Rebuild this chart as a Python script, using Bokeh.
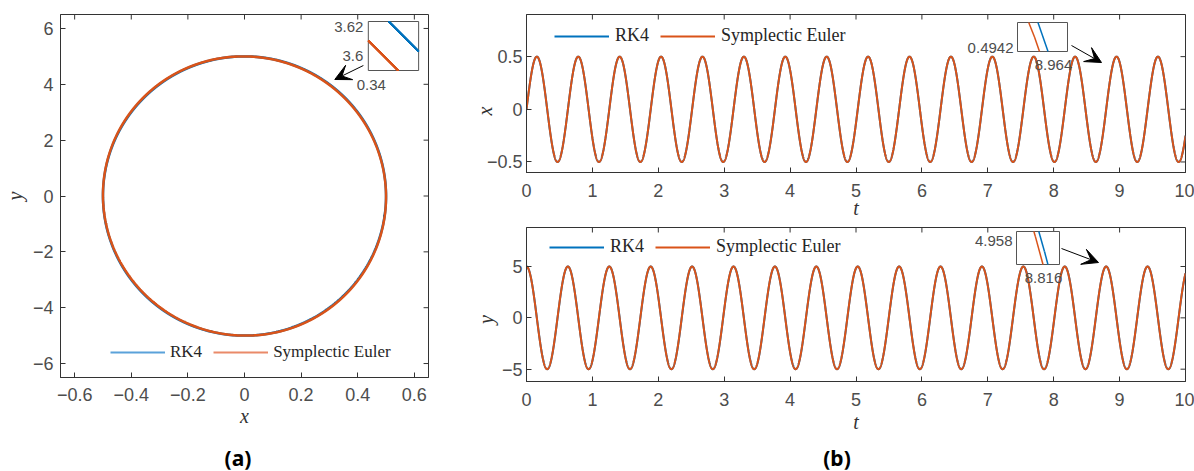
import numpy as np
from bokeh.plotting import figure
from bokeh.models import (FixedTicker, CustomJSTickFormatter, Legend, LegendItem,
                          Label, Arrow, VeeHead, Range1d, Div)
from bokeh.layouts import row, column
from bokeh.embed import file_html
from bokeh.resources import INLINE

# ---------------- data (model) ----------------
OMEGA = 10.0          # angular frequency (16 oscillations in t = 0..10)
X0 = 0.0              # x(0)
Y0 = 5.0              # y(0)
STEP = 0.0015         # integrator step
T_END = 10.0

series_names = ["RK4", "Symplectic Euler"]
series_colors = ["#0072BD", "#D95319"]
legend_a_colors = ["#5aa2da", "#ea8a69"]

xa_ticks = [-0.6, -0.4, -0.2, 0, 0.2, 0.4, 0.6]
ya_ticks = [-6, -4, -2, 0, 2, 4, 6]
t_ticks = [0, 1, 2, 3, 4, 5, 6, 7, 8, 9, 10]
xb_ticks = [-0.5, 0, 0.5]
yb_ticks = [-5, 0, 5]

xa_range = [-0.65, 0.65]
ya_range = [-6.5, 6.5]
t_range = [0, 10]
xb_range = [-0.6, 0.9]
yb_range = [-6.2, 8.8]

inset_a_labels = ["3.62", "3.6", "0.34"]
inset_a_xlevel = 0.342
inset_a_yspan = 0.0316
tip_b1 = (8.964, 0.4942)
tip_b2 = (8.816, 4.958)
inset_b1_labels = ["0.4942", "8.964"]
inset_b2_labels = ["4.958", "8.816"]
captions = ["(a)", "(b)"]
axis_titles = ["x", "y", "t"]

# ---------------- integrate x' = y, y' = -omega^2 x ----------------
n = int(round(T_END / STEP))
t = np.arange(n + 1) * STEP


def deriv(s):
    return np.array([s[1], -OMEGA ** 2 * s[0]])


rk = np.zeros((n + 1, 2))
rk[0] = [X0, Y0]
for i in range(n):
    s = rk[i]
    k1 = deriv(s)
    k2 = deriv(s + STEP / 2 * k1)
    k3 = deriv(s + STEP / 2 * k2)
    k4 = deriv(s + STEP * k3)
    rk[i + 1] = s + STEP / 6 * (k1 + 2 * k2 + 2 * k3 + k4)

se = np.zeros((n + 1, 2))
se[0] = [X0, Y0]
for i in range(n):
    xn = se[i, 0] + STEP * se[i, 1]
    yn = se[i, 1] - STEP * OMEGA ** 2 * xn
    se[i + 1] = [xn, yn]

# ---------------- geometry helpers (page pixels -> data) ----------------
class Geo:
    def __init__(self, L, R, T, B, xr, yr):
        self.L, self.R, self.T, self.B = L, R, T, B
        self.xr, self.yr = xr, yr

    def d(self, px, py):
        px = np.asarray(px, dtype=float)
        py = np.asarray(py, dtype=float)
        x = self.xr[0] + (px - self.L) / (self.R - self.L) * (self.xr[1] - self.xr[0])
        y = self.yr[1] - (py - self.T) / (self.B - self.T) * (self.yr[1] - self.yr[0])
        return x, y

    def dx(self, npx):
        return npx / (self.R - self.L) * (self.xr[1] - self.xr[0])

    def dy(self, npx):
        return npx / (self.B - self.T) * (self.yr[1] - self.yr[0])


fmt_code = """
const r = Math.round(tick * 10000) / 10000;
const s = (Math.abs(r) < 1e-12) ? "0" : r.toString();
return s.replace("-", "\u2212");
"""

AX_COLOR = "#333333"


def style_axis(ax, ticks, standoff, label, lab_standoff):
    ax.ticker = FixedTicker(ticks=ticks)
    ax.formatter = CustomJSTickFormatter(code=fmt_code)
    ax.major_tick_in = 5
    ax.major_tick_out = 0
    ax.minor_tick_line_color = None
    ax.axis_line_color = AX_COLOR
    ax.major_tick_line_color = AX_COLOR
    ax.major_label_text_font = "Liberation Sans"
    ax.major_label_text_font_size = "18px"
    ax.major_label_text_color = "#4d4d4d"
    ax.major_label_standoff = standoff
    ax.axis_label = label
    ax.axis_label_text_font = "Liberation Serif"
    ax.axis_label_text_font_style = "italic"
    ax.axis_label_text_font_size = "20px"
    ax.axis_label_text_color = "#333333"
    ax.axis_label_standoff = lab_standoff


def make_fig(w, h, borders, geo, xt, yt, xstand, ystand, xlab, ylab, xls, yls):
    bl, br, bt, bb = borders
    p = figure(width=w, height=h, x_range=Range1d(*geo.xr), y_range=Range1d(*geo.yr),
               output_backend="svg", toolbar_location=None,
               min_border_left=bl, min_border_right=br, min_border_top=bt, min_border_bottom=bb)
    p.grid.visible = False
    p.outline_line_color = AX_COLOR
    p.outline_line_width = 1
    p.background_fill_color = "white"
    p.border_fill_color = "white"
    style_axis(p.xaxis[0], xt, xstand, xlab, xls)
    style_axis(p.yaxis[0], yt, ystand, ylab, yls)
    # box ticks on the top and right edges
    tl_y = geo.dy(5)
    p.segment(x0=list(xt), x1=list(xt), y0=[geo.yr[1]] * len(xt), y1=[geo.yr[1] - tl_y] * len(xt),
              line_color=AX_COLOR, line_width=1)
    tl_x = geo.dx(5)
    p.segment(x0=[geo.xr[1]] * len(yt), x1=[geo.xr[1] - tl_x] * len(yt), y0=list(yt), y1=list(yt),
              line_color=AX_COLOR, line_width=1)
    return p


def clip_segments(u, v, win):
    u0, u1, v0, v1 = win
    umin = np.minimum(u[:-1], u[1:]); umax = np.maximum(u[:-1], u[1:])
    vmin = np.minimum(v[:-1], v[1:]); vmax = np.maximum(v[:-1], v[1:])
    idx = np.where((umax >= u0) & (umin <= u1) & (vmax >= v0) & (vmin <= v1))[0]
    xs, ys = [], []
    for i in idx:
        ax_, ay_, bx_, by_ = u[i], v[i], u[i + 1], v[i + 1]
        dx, dy = bx_ - ax_, by_ - ay_
        a0, a1 = 0.0, 1.0
        ok = True
        for pp, qq in ((-dx, ax_ - u0), (dx, u1 - ax_), (-dy, ay_ - v0), (dy, v1 - ay_)):
            if pp == 0:
                if qq < 0:
                    ok = False
                    break
            else:
                r = qq / pp
                if pp < 0:
                    a0 = max(a0, r)
                else:
                    a1 = min(a1, r)
        if ok and a0 < a1:
            xs.append([ax_ + a0 * dx, ax_ + a1 * dx])
            ys.append([ay_ + a0 * dy, ay_ + a1 * dy])
    return xs, ys


def draw_inset(p, geo, box, win, curves):
    bx0, by0, bx1, by1 = box
    qx, qy = geo.d([bx0, bx1], [by1, by0])
    p.quad(left=qx[0], right=qx[1], bottom=qy[0], top=qy[1], fill_color="white",
           line_color="#555555", line_width=1)
    u0, u1, v0, v1 = win
    for (u, v), col in curves:
        xs, ys = clip_segments(u, v, win)
        mx, my = [], []
        for sx, sy in zip(xs, ys):
            px = bx0 + (np.array(sx) - u0) / (u1 - u0) * (bx1 - bx0)
            py = by1 - (np.array(sy) - v0) / (v1 - v0) * (by1 - by0)
            dx_, dy_ = geo.d(px, py)
            mx.append(list(dx_)); my.append(list(dy_))
        if mx:
            p.multi_line(xs=mx, ys=my, line_color=col, line_width=1.5)


def add_text(p, geo, px, py, text, align="center", size="15px"):
    x, y = geo.d(px, py)
    p.add_layout(Label(x=float(x), y=float(y), text=text, text_align=align, text_baseline="middle",
                       text_font="Liberation Sans", text_font_size=size, text_color="#4d4d4d"))


def add_arrow(p, geo, p0, p1):
    x0, y0 = geo.d(p0[0], p0[1])
    x1, y1 = geo.d(p1[0], p1[1])
    p.add_layout(Arrow(end=VeeHead(size=16, fill_color="black", line_color="black"),
                       x_start=float(x0), y_start=float(y0), x_end=float(x1), y_end=float(y1),
                       line_color="black", line_width=1))


def caption_div(text, w, pad):
    html = ('<div style="width:%dpx;box-sizing:border-box;padding-left:%dpx;text-align:center;'
            'font-family:\'Noto Sans\';font-weight:bold;font-size:21px;line-height:36px;'
            'color:black;">%s</div>' % (w, pad, text))
    return Div(text=html, width=w, height=31, margin=0)


def desc_cross(tt, vv, t_near, level):
    i0 = int(round(t_near / STEP))
    best = None
    for i in range(max(i0 - 300, 0), min(i0 + 300, len(tt) - 1)):
        if vv[i] >= level > vv[i + 1]:
            f = (vv[i] - level) / (vv[i] - vv[i + 1])
            tc = tt[i] + f * (tt[i + 1] - tt[i])
            sl = (vv[i + 1] - vv[i]) / (tt[i + 1] - tt[i])
            if best is None or abs(tc - t_near) < abs(best[0] - t_near):
                best = (tc, sl)
    return best


def q1_cross(xs, ys, xlev):
    for i in range(len(xs) - 1):
        if ys[i] > 0 and xs[i] <= xlev < xs[i + 1]:
            f = (xlev - xs[i]) / (xs[i + 1] - xs[i])
            return ys[i] + f * (ys[i + 1] - ys[i]), (ys[i + 1] - ys[i]) / (xs[i + 1] - xs[i])


def style_legend(leg, loc, size, standoff, spacing):
    leg.location = loc
    leg.orientation = "horizontal"
    leg.label_text_font = "Liberation Serif"
    leg.label_text_font_size = size
    leg.label_text_color = "#262626"
    leg.glyph_width = 55
    leg.glyph_height = 18
    leg.label_height = 18
    leg.label_standoff = standoff
    leg.spacing = spacing
    leg.padding = 0
    leg.margin = 0
    leg.background_fill_alpha = 0
    leg.border_line_alpha = 0


NB1 = "\u00a0" * 7   # pushes the rotated letter down to the level of the 0 tick
NB2 = "\u00a0" * 6

# ---------------- panel (a) ----------------
WA = 466
geoA = Geo(55, 428, 14, 377, xa_range, ya_range)
pa = make_fig(WA, 440, (55, WA - 428, 14, 63), geoA, xa_ticks, ya_ticks, 10, 7,
              axis_titles[0], axis_titles[1], 1, 4)
pa.line(rk[:, 0], rk[:, 1], line_color=series_colors[0], line_width=2.5)
pa.line(se[:, 0], se[:, 1], line_color=series_colors[1], line_width=2.5)
la0 = pa.line([np.nan], [np.nan], line_color=legend_a_colors[0], line_width=2)
la1 = pa.line([np.nan], [np.nan], line_color=legend_a_colors[1], line_width=2)
legA = Legend(items=[LegendItem(label=series_names[0], renderers=[la0]),
                     LegendItem(label=series_names[1], renderers=[la1])])
style_legend(legA, (50, 15), "17px", 5, 11)
pa.add_layout(legA)

yo, slope_a = q1_cross(se[:, 0], se[:, 1], inset_a_xlevel)
yb_, _ = q1_cross(rk[:, 0], rk[:, 1], inset_a_xlevel)
yc = yo + 0.5 * (yb_ - yo)
wx = 51 * inset_a_yspan / (49 * abs(slope_a))
win_a = (inset_a_xlevel - wx / 2, inset_a_xlevel + wx / 2, yc - inset_a_yspan / 2, yc + inset_a_yspan / 2)
draw_inset(pa, geoA, (367, 21, 418, 70), win_a,
           [((rk[:, 0], rk[:, 1]), series_colors[0]), ((se[:, 0], se[:, 1]), series_colors[1])])
add_text(pa, geoA, 362, 26, inset_a_labels[0], align="right")
add_text(pa, geoA, 362, 55, inset_a_labels[1], align="right")
add_text(pa, geoA, 370, 84, inset_a_labels[2], align="center")
add_arrow(pa, geoA, (362, 65), (333, 79))

# ---------------- panel (b), top ----------------
WB = 1194 - WA
BL = 526 - WA
geoB1 = Geo(526, 1185, 14, 172, t_range, xb_range)
pb1 = make_fig(WB, 222, (BL, 9, 14, 50), geoB1, t_ticks, xb_ticks, 11, 4,
               axis_titles[2], axis_titles[0] + NB1, -3, -12)
r1 = pb1.line(t, rk[:, 0], line_color=series_colors[0], line_width=2)
s1 = pb1.line(t, se[:, 0], line_color=series_colors[1], line_width=2)
legB1 = Legend(items=[LegendItem(label=series_names[0], renderers=[r1]),
                      LegendItem(label=series_names[1], renderers=[s1])])
style_legend(legB1, (28, 126), "18px", 6, 11)
pb1.add_layout(legB1)

lev1 = float(np.interp(tip_b1[0], t, se[:, 0]))
to1, sl1 = desc_cross(t, se[:, 0], tip_b1[0], lev1)
tb1, _ = desc_cross(t, rk[:, 0], tip_b1[0], lev1)
Wt1 = (tb1 - to1) * 50 / 8.5
u0 = to1 - 17 / 50 * Wt1
Wv1 = abs(sl1) * (10 / 50) * Wt1
win_b1 = (u0, u0 + Wt1, lev1 - Wv1 / 2, lev1 + Wv1 / 2)
draw_inset(pb1, geoB1, (1017, 22, 1067, 51), win_b1,
           [((t, rk[:, 0]), series_colors[0]), ((t, se[:, 0]), series_colors[1])])
add_text(pb1, geoB1, 1013, 47, inset_b1_labels[0], align="right")
add_text(pb1, geoB1, 1053, 64, inset_b1_labels[1], align="center")
add_arrow(pb1, geoB1, (1071, 45), (1101, 62))

# ---------------- panel (b), bottom ----------------
geoB2 = Geo(526, 1185, 227, 381, t_range, yb_range)
pb2 = make_fig(WB, 218, (BL, 9, 5, 59), geoB2, t_ticks, yb_ticks, 11, 4,
               axis_titles[2], axis_titles[1] + NB2, 2, 2)
r2 = pb2.line(t, rk[:, 1], line_color=series_colors[0], line_width=2)
s2 = pb2.line(t, se[:, 1], line_color=series_colors[1], line_width=2)
legB2 = Legend(items=[LegendItem(label=series_names[0], renderers=[r2]),
                      LegendItem(label=series_names[1], renderers=[s2])])
style_legend(legB2, (23, 124), "18px", 6, 11)
pb2.add_layout(legB2)

lev2 = float(np.interp(tip_b2[0], t, se[:, 1]))
to2, sl2 = desc_cross(t, se[:, 1], tip_b2[0], lev2)
tb2, _ = desc_cross(t, rk[:, 1], tip_b2[0], lev2)
Wt2 = (tb2 - to2) * 43 / 5.0
u0b = to2 - 22 / 43 * Wt2
Wv2 = abs(sl2) * (9 / 43) * Wt2
win_b2 = (u0b, u0b + Wt2, lev2 - Wv2 / 2, lev2 + Wv2 / 2)
draw_inset(pb2, geoB2, (1016, 231, 1059, 264), win_b2,
           [((t, rk[:, 1]), series_colors[0]), ((t, se[:, 1]), series_colors[1])])
add_text(pb2, geoB2, 1012, 240, inset_b2_labels[0], align="right")
add_text(pb2, geoB2, 1043, 277, inset_b2_labels[1], align="center")
add_arrow(pb2, geoB2, (1061, 248), (1098, 262))

layout = row(column(pa, caption_div(captions[0], WA, 10)),
             column(pb1, pb2, caption_div(captions[1], WB, 14)))
open("out.html", "w").write(file_html(layout, INLINE))
